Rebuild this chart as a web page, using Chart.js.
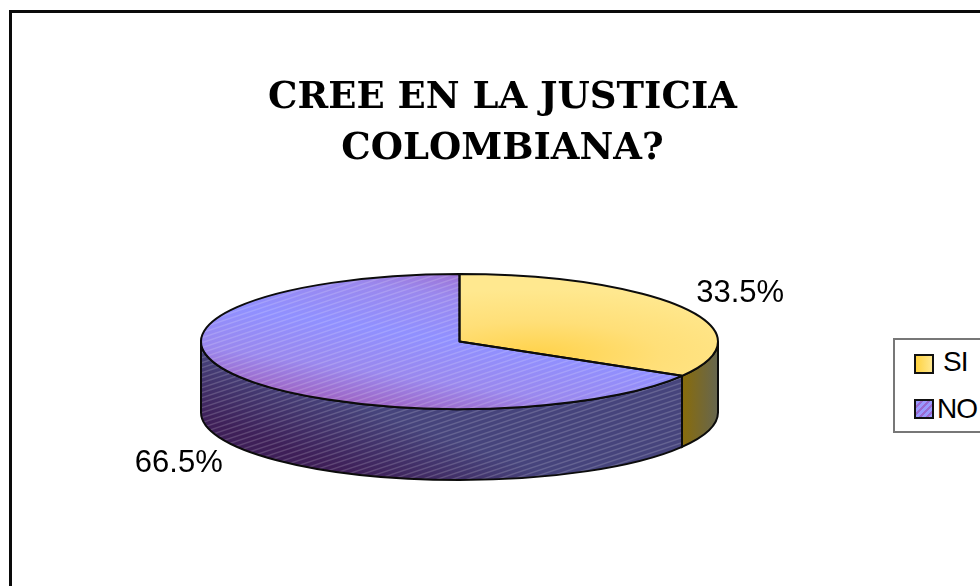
<!DOCTYPE html>
<html>
<head>
<meta charset="utf-8">
<title>Cree en la justicia colombiana</title>
<script src="https://cdn.jsdelivr.net/npm/chart.js@4/dist/chart.umd.min.js"></script>
<style>
  html, body { margin: 0; padding: 0; background: #fff; overflow: hidden; }
  #wrap { position: relative; width: 980px; height: 586px; overflow: hidden; }
  #frame { position: absolute; left: 9px; top: 10px; width: 990px; height: 600px; border: 3px solid #0a0a0a; box-sizing: border-box; }
  canvas { position: absolute; left: 0; top: 0; }
  #legend { position: absolute; left: 893px; top: 338px; width: 110px; height: 95px; border: 2px solid #777; box-sizing: border-box; background: #fff;
            font: 28px "Liberation Sans", Arial, sans-serif; color: #000; }
  #legend .row { position: absolute; left: 0; white-space: nowrap; line-height: 32px; }
  #legend .sw { position: absolute; left: 19px; top: 6px; width: 20px; height: 20px; border: 2px solid #111; box-sizing: border-box; }
  #legend .tx { position: absolute; left: 48px; top: 0; letter-spacing: -1px; }
</style>
</head>
<body>
<div id="wrap">
  <div id="frame"></div>
  <canvas id="chart" width="980" height="586"></canvas>
  <div id="legend"></div>
</div>
<script>
const categories = ['SI', 'NO'];
const values = [33.5, 66.5];
const valueLabels = ['33.5%', '66.5%'];
const titleLines = ['CREE EN LA JUSTICIA', 'COLOMBIANA?'];

// geometria de la "torta" 3D: el pie de Chart.js se aplasta con una transformacion
const CX = 459.5, CY = 341.5, RX = 258.5, RY = 67.5, DEPTH = 71;

function stripes() {
  const c = document.createElement('canvas');
  c.width = 15; c.height = 5;
  const g = c.getContext('2d');
  g.strokeStyle = 'rgba(255,255,255,0.17)';
  g.lineWidth = 1.4;
  g.beginPath();
  for (let k = -5; k <= 10; k += 5) {
    g.moveTo(0, k);
    g.lineTo(15, k - 5);
  }
  g.stroke();
  return c;
}

function topFill(context) {
  const chart = context.chart, ctx = chart.ctx, area = chart.chartArea;
  if (!area) return '#ccc';
  const x = (area.left + area.right) / 2, y = (area.top + area.bottom) / 2;
  if (context.dataIndex === 0) {
    const g = ctx.createRadialGradient(x + 60, y + 40, 0, x + 60, y + 40, 200);
    g.addColorStop(0, '#ffd24a');
    g.addColorStop(0.5, '#ffdf78');
    g.addColorStop(1, '#ffe88f');
    return g;
  }
  const g = ctx.createLinearGradient(x + 130, y - 225, x - 130, y + 225);
  g.addColorStop(0, '#a058b4');
  g.addColorStop(0.28, '#9a88ee');
  g.addColorStop(0.5, '#9090ff');
  g.addColorStop(0.72, '#9a88ee');
  g.addColorStop(1, '#a050ac');
  return g;
}

function wallFill(ctx, i) {
  if (i === 0) {
    const r = ctx.createLinearGradient(681, 0, 718, 0);
    r.addColorStop(0, '#8a6c08');
    r.addColorStop(1, '#666650');
    return r;
  }
  // oscuro abajo a la izquierda, azul arriba y al centro
  const g = ctx.createLinearGradient(CX - 40, CY, CX - 90, CY + DEPTH + RY);
  g.addColorStop(0, '#46447c');
  g.addColorStop(0.55, '#46447c');
  g.addColorStop(1, '#3e1f58');
  return g;
}

const pie3d = {
  id: 'pie3d',
  beforeDatasetsDraw(chart) {
    const ctx = chart.ctx;
    const arcs = chart.getDatasetMeta(0).data;
    const pat = ctx.createPattern(stripes(), 'repeat');
    // paredes frontales
    arcs.forEach((arc, i) => {
      const a0 = Math.max(arc.startAngle, 0), a1 = Math.min(arc.endAngle, Math.PI);
      if (a1 <= a0) return;
      ctx.save();
      ctx.beginPath();
      ctx.ellipse(CX, CY, RX, RY, 0, a0, a1);
      ctx.ellipse(CX, CY + DEPTH, RX, RY, 0, a1, a0, true);
      ctx.closePath();
      ctx.fillStyle = wallFill(ctx, i);
      ctx.fill();
      if (i === 1) { ctx.fillStyle = pat; ctx.fill(); }
      ctx.strokeStyle = '#0c0c0c';
      ctx.lineWidth = 2;
      ctx.stroke();
      ctx.restore();
    });
    // tapa aplastada
    const a = arcs[0];
    ctx.save();
    ctx.translate(CX, CY);
    ctx.scale(RX / a.outerRadius, RY / a.outerRadius);
    ctx.translate(-a.x, -a.y);
  },
  afterDatasetsDraw(chart) {
    const ctx = chart.ctx;
    ctx.restore();
    const arcs = chart.getDatasetMeta(0).data;
    const pat = ctx.createPattern(stripes(), 'repeat');
    arcs.forEach((arc, i) => {
      ctx.save();
      ctx.beginPath();
      ctx.moveTo(CX, CY);
      ctx.ellipse(CX, CY, RX, RY, 0, arc.startAngle, arc.endAngle);
      ctx.closePath();
      if (i === 1) { ctx.fillStyle = pat; ctx.fill(); }
      ctx.strokeStyle = '#0c0c0c';
      ctx.lineWidth = 2;
      ctx.lineJoin = 'round';
      ctx.stroke();
      ctx.restore();

      // etiqueta de porcentaje
      const mid = (arc.startAngle + arc.endAngle) / 2;
      const lx = CX + RX * Math.cos(mid) * 1.25;
      const ly = CY + RY * Math.sin(mid) * 1.45 + (Math.sin(mid) > 0 ? DEPTH + 2 : 0);
      ctx.fillStyle = '#000';
      ctx.font = '31px "Liberation Sans", Arial, sans-serif';
      ctx.textAlign = 'center';
      ctx.textBaseline = 'middle';
      ctx.fillText(valueLabels[i], lx, ly);
    });
  }
};

new Chart(document.getElementById('chart'), {
  type: 'pie',
  data: {
    labels: categories,
    datasets: [{ data: values, backgroundColor: topFill, borderWidth: 0, clip: false }]
  },
  options: {
    responsive: false,
    animation: false,
    layout: { padding: { top: 73, left: 25 } },
    plugins: {
      legend: { display: false },
      tooltip: { enabled: false },
      title: {
        display: true,
        text: titleLines,
        color: '#000',
        font: { family: '"DejaVu Serif", serif', size: 37, weight: 'bold', lineHeight: 1.38 },
        padding: 0
      }
    }
  },
  plugins: [pie3d]
});

// leyenda en HTML
const legendSw = [
  'linear-gradient(90deg,#ffd23f,#ffe88f)',
  'repeating-linear-gradient(135deg,#9999ff 0 3px,#9a6ad0 3px 5px)'
];
const legendEl = document.getElementById('legend');
categories.forEach((name, i) => {
  const row = document.createElement('div');
  row.className = 'row';
  row.style.top = (8 + i * 45) + 'px';
  row.innerHTML = '<span class="sw" style="background:' + legendSw[i] + '"></span>' +
    '<span class="tx" style="' + (i === 1 ? 'left:42px;' : 'top:-2px;') + '">' + name + '</span>';
  legendEl.appendChild(row);
});
</script>
</body>
</html>
